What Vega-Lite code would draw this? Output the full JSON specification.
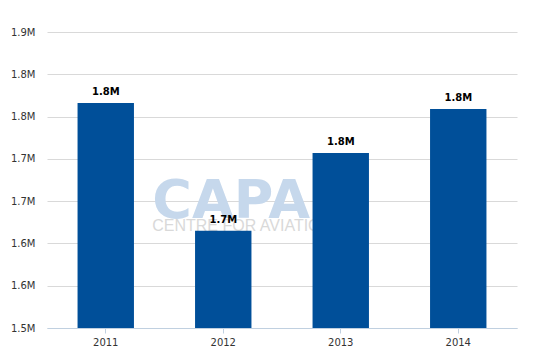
{
  "$schema": "https://vega.github.io/schema/vega-lite/v6.json",
  "width": 470,
  "height": 296,
  "autosize": {"type": "none"},
  "padding": {"left": 47, "top": 32, "right": 23, "bottom": 32},
  "background": "white",
  "config": {"view": {"stroke": null}, "font": "DejaVu Sans"},
  "data": {"values": [
    {"year": "2011", "value": 1766000, "label": "1.8M"},
    {"year": "2012", "value": 1615000, "label": "1.7M"},
    {"year": "2013", "value": 1707000, "label": "1.8M"},
    {"year": "2014", "value": 1759000, "label": "1.8M"}
  ]},
  "encoding": {
    "x": {"field": "year", "type": "nominal", "sort": ["2011", "2012", "2013", "2014"],
      "scale": {"domain": ["2011", "2012", "2013", "2014"], "paddingInner": 0.52, "paddingOuter": 0.26},
      "axis": {"title": null, "labelAngle": 0, "domainColor": "#c0d0e0", "tickColor": "#c0d0e0", "tickSize": 5, "labelPadding": 4, "labelFontSize": 10, "labelColor": "#333333", "labelFont": "DejaVu Sans", "zindex": 1}}
  },
  "layer": [
    {
      "data": {"values": [{"t": "CAPA", "year": "2012", "v": 1630000}]},
      "mark": {"type": "text", "fontSize": 54, "fontWeight": "bold", "color": "#c6d8ec", "font": "DejaVu Sans", "dx": -71, "align": "left", "baseline": "alphabetic"},
      "encoding": {
        "y": {"field": "v", "type": "quantitative"},
        "text": {"field": "t"}
      }
    },
    {
      "data": {"values": [{"t": "CENTRE FOR AVIATION", "year": "2012", "v": 1614700}]},
      "mark": {"type": "text", "fontSize": 16, "color": "#d9d9d9", "font": "Liberation Sans", "dx": -71, "align": "left", "baseline": "alphabetic"},
      "encoding": {
        "y": {"field": "v", "type": "quantitative"},
        "text": {"field": "t"}
      }
    },
    {
      "mark": {"type": "bar", "color": "#004f99", "clip": true},
      "encoding": {
        "y": {"field": "value", "type": "quantitative",
          "scale": {"domain": [1500000, 1850000], "zero": false, "nice": false},
          "axis": {"title": null, "values": [1500000, 1550000, 1600000, 1650000, 1700000, 1750000, 1800000, 1850000], "format": ".2s", "domain": false, "ticks": false, "gridColor": "#d9d9d9", "labelPadding": 12, "labelFontSize": 10, "labelColor": "#333333"}}
      }
    },
    {
      "mark": {"type": "text", "fontWeight": "bold", "fontSize": 10, "baseline": "bottom", "dy": -6, "color": "#000000"},
      "encoding": {
        "y": {"field": "value", "type": "quantitative"},
        "text": {"field": "label"}
      }
    }
  ]
}
